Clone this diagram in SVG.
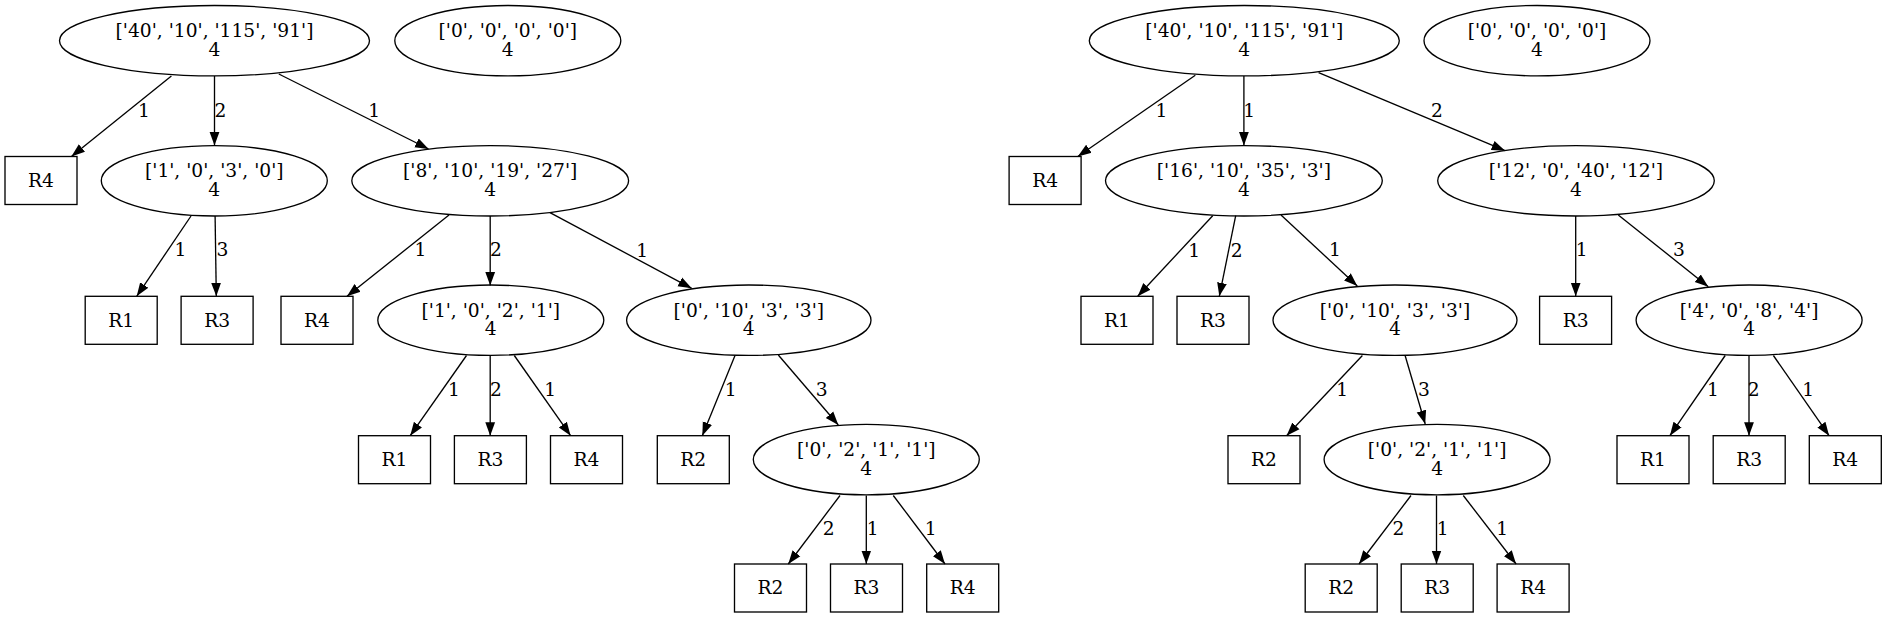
<svg xmlns="http://www.w3.org/2000/svg" width="1887" height="617" viewBox="0 0 1887 617">
<style>
.n ellipse,.n rect{fill:none;stroke:#000;stroke-width:1.33}
text{font-family:"DejaVu Serif",serif;font-size:18.67px;text-anchor:middle;fill:#000}
#edges line{stroke:#000;stroke-width:1.33;marker-end:url(#arr)}
</style>
<defs>
<marker id="arr" viewBox="0 -6 14 12" refX="13.5" refY="0" markerWidth="14" markerHeight="12" markerUnits="userSpaceOnUse" orient="auto">
<path d="M0,-4.9L13.5,0L0,4.9z" fill="#000"/>
</marker>
</defs>
<rect width="1887" height="617" fill="#fff"/>
<g id="edges">
<line x1="171.4" y1="76" x2="71.4" y2="156.5"/>
<line x1="214.5" y1="76" x2="214.5" y2="145.6"/>
<line x1="278.8" y1="74" x2="428.6" y2="149"/>
<line x1="191" y1="216" x2="136.7" y2="296.3"/>
<line x1="215.1" y1="216" x2="216.3" y2="296.3"/>
<line x1="449" y1="215" x2="347" y2="296.3"/>
<line x1="490.2" y1="216" x2="490.2" y2="285.5"/>
<line x1="550" y1="212.7" x2="691.7" y2="288.3"/>
<line x1="466.5" y1="355.5" x2="410.2" y2="435.7"/>
<line x1="490.2" y1="355.5" x2="490.2" y2="435.7"/>
<line x1="514.3" y1="355.5" x2="570.6" y2="435.7"/>
<line x1="735" y1="355.5" x2="702.3" y2="435.7"/>
<line x1="778.3" y1="355" x2="838.3" y2="425"/>
<line x1="840" y1="495.5" x2="788.3" y2="564"/>
<line x1="866.3" y1="495.5" x2="866.3" y2="564"/>
<line x1="893.3" y1="495.5" x2="945" y2="564"/>
<line x1="1195.3" y1="75.3" x2="1077.8" y2="156.5"/>
<line x1="1243.9" y1="76" x2="1243.9" y2="145.6"/>
<line x1="1318.6" y1="72.7" x2="1505.1" y2="150.7"/>
<line x1="1212.7" y1="215.7" x2="1137.7" y2="296.3"/>
<line x1="1235.7" y1="215.7" x2="1219.3" y2="296.3"/>
<line x1="1281" y1="215" x2="1357.3" y2="286"/>
<line x1="1575.7" y1="216" x2="1575.7" y2="296.3"/>
<line x1="1618.3" y1="215" x2="1708.3" y2="286.7"/>
<line x1="1362.4" y1="355.5" x2="1286.6" y2="435.7"/>
<line x1="1405.1" y1="355.5" x2="1425.2" y2="424"/>
<line x1="1411" y1="495.5" x2="1359" y2="564"/>
<line x1="1436.5" y1="495.5" x2="1436.5" y2="564"/>
<line x1="1463.3" y1="495.5" x2="1516.1" y2="564"/>
<line x1="1725.2" y1="355.5" x2="1669.9" y2="435.7"/>
<line x1="1749" y1="355.5" x2="1749" y2="435.7"/>
<line x1="1773.4" y1="355.5" x2="1829.1" y2="435.7"/>
<text x="144" y="116.7">1</text>
<text x="220.4" y="116.7">2</text>
<text x="374.3" y="116.7">1</text>
<text x="180.4" y="256.2">1</text>
<text x="222.4" y="256.2">3</text>
<text x="420.4" y="256.2">1</text>
<text x="496" y="256.2">2</text>
<text x="642.3" y="256.7">1</text>
<text x="453.9" y="395.7">1</text>
<text x="496" y="395.7">2</text>
<text x="550.2" y="395.7">1</text>
<text x="730.7" y="395.7">1</text>
<text x="821.7" y="395.7">3</text>
<text x="828.7" y="535">2</text>
<text x="872.7" y="535">1</text>
<text x="930.7" y="535">1</text>
<text x="1161.4" y="116.7">1</text>
<text x="1249.2" y="116.7">1</text>
<text x="1437" y="116.7">2</text>
<text x="1194.3" y="256.7">1</text>
<text x="1236.7" y="256.7">2</text>
<text x="1334.9" y="256.2">1</text>
<text x="1581.8" y="256.2">1</text>
<text x="1679" y="255.7">3</text>
<text x="1342.3" y="395.7">1</text>
<text x="1424" y="395.7">3</text>
<text x="1398.4" y="535">2</text>
<text x="1442.8" y="535">1</text>
<text x="1502.3" y="535">1</text>
<text x="1713" y="395.7">1</text>
<text x="1753.7" y="395.7">2</text>
<text x="1808.1" y="395.7">1</text>
</g>
<g id="L0" class="n"><ellipse cx="214.5" cy="40.7" rx="155" ry="35.2"/><text x="214.5" y="37"><tspan x="214.5">['40', '10', '115', '91']</tspan><tspan x="214.5" dy="18.67">4</tspan></text></g>
<g id="L0b" class="n"><ellipse cx="507.8" cy="40.7" rx="113" ry="35.2"/><text x="507.8" y="37"><tspan x="507.8">['0', '0', '0', '0']</tspan><tspan x="507.8" dy="18.67">4</tspan></text></g>
<g id="L1" class="n"><rect x="5" y="156.5" width="72" height="48"/><text x="41" y="186.7">R4</text></g>
<g id="L2" class="n"><ellipse cx="214.3" cy="180.8" rx="113" ry="35.2"/><text x="214.3" y="177.1"><tspan x="214.3">['1', '0', '3', '0']</tspan><tspan x="214.3" dy="18.67">4</tspan></text></g>
<g id="L3" class="n"><ellipse cx="490.2" cy="180.8" rx="138.4" ry="35.2"/><text x="490.2" y="177.1"><tspan x="490.2">['8', '10', '19', '27']</tspan><tspan x="490.2" dy="18.67">4</tspan></text></g>
<g id="L4" class="n"><rect x="85.2" y="296.3" width="72" height="48"/><text x="121.2" y="326.5">R1</text></g>
<g id="L5" class="n"><rect x="181.1" y="296.3" width="72" height="48"/><text x="217.1" y="326.5">R3</text></g>
<g id="L6" class="n"><rect x="281" y="296.3" width="72" height="48"/><text x="317" y="326.5">R4</text></g>
<g id="L7" class="n"><ellipse cx="490.8" cy="320.2" rx="113" ry="35.2"/><text x="490.8" y="316.5"><tspan x="490.8">['1', '0', '2', '1']</tspan><tspan x="490.8" dy="18.67">4</tspan></text></g>
<g id="L8" class="n"><ellipse cx="748.8" cy="320.2" rx="122.2" ry="35.2"/><text x="748.8" y="316.5"><tspan x="748.8">['0', '10', '3', '3']</tspan><tspan x="748.8" dy="18.67">4</tspan></text></g>
<g id="L9" class="n"><rect x="358.5" y="435.7" width="72" height="48"/><text x="394.5" y="465.9">R1</text></g>
<g id="L10" class="n"><rect x="454.4" y="435.7" width="72" height="48"/><text x="490.4" y="465.9">R3</text></g>
<g id="L11" class="n"><rect x="550.5" y="435.7" width="72" height="48"/><text x="586.5" y="465.9">R4</text></g>
<g id="L12" class="n"><rect x="657.3" y="435.7" width="72" height="48"/><text x="693.3" y="465.9">R2</text></g>
<g id="L13" class="n"><ellipse cx="866.3" cy="459.6" rx="113" ry="35.2"/><text x="866.3" y="455.9"><tspan x="866.3">['0', '2', '1', '1']</tspan><tspan x="866.3" dy="18.67">4</tspan></text></g>
<g id="L14" class="n"><rect x="734.5" y="564" width="72" height="48"/><text x="770.5" y="594.2">R2</text></g>
<g id="L15" class="n"><rect x="830.5" y="564" width="72" height="48"/><text x="866.5" y="594.2">R3</text></g>
<g id="L16" class="n"><rect x="926.7" y="564" width="72" height="48"/><text x="962.7" y="594.2">R4</text></g>
<g id="R0" class="n"><ellipse cx="1244.3" cy="40.7" rx="155" ry="35.2"/><text x="1244.3" y="37"><tspan x="1244.3">['40', '10', '115', '91']</tspan><tspan x="1244.3" dy="18.67">4</tspan></text></g>
<g id="R0b" class="n"><ellipse cx="1537" cy="40.7" rx="113" ry="35.2"/><text x="1537" y="37"><tspan x="1537">['0', '0', '0', '0']</tspan><tspan x="1537" dy="18.67">4</tspan></text></g>
<g id="R1" class="n"><rect x="1009.1" y="156.5" width="72" height="48"/><text x="1045.1" y="186.7">R4</text></g>
<g id="R2" class="n"><ellipse cx="1243.9" cy="180.8" rx="138.4" ry="35.2"/><text x="1243.9" y="177.1"><tspan x="1243.9">['16', '10', '35', '3']</tspan><tspan x="1243.9" dy="18.67">4</tspan></text></g>
<g id="R3" class="n"><ellipse cx="1576" cy="180.8" rx="138.3" ry="35.2"/><text x="1576" y="177.1"><tspan x="1576">['12', '0', '40', '12']</tspan><tspan x="1576" dy="18.67">4</tspan></text></g>
<g id="R4" class="n"><rect x="1081" y="296.3" width="72" height="48"/><text x="1117" y="326.5">R1</text></g>
<g id="R5" class="n"><rect x="1177" y="296.3" width="72" height="48"/><text x="1213" y="326.5">R3</text></g>
<g id="R6" class="n"><ellipse cx="1395" cy="320.2" rx="122" ry="35.2"/><text x="1395" y="316.5"><tspan x="1395">['0', '10', '3', '3']</tspan><tspan x="1395" dy="18.67">4</tspan></text></g>
<g id="R7" class="n"><rect x="1539.6" y="296.3" width="72" height="48"/><text x="1575.6" y="326.5">R3</text></g>
<g id="R8" class="n"><ellipse cx="1749.1" cy="320.2" rx="113" ry="35.2"/><text x="1749.1" y="316.5"><tspan x="1749.1">['4', '0', '8', '4']</tspan><tspan x="1749.1" dy="18.67">4</tspan></text></g>
<g id="R9" class="n"><rect x="1228" y="435.7" width="72" height="48"/><text x="1264" y="465.9">R2</text></g>
<g id="R10" class="n"><ellipse cx="1437.1" cy="459.6" rx="113" ry="35.2"/><text x="1437.1" y="455.9"><tspan x="1437.1">['0', '2', '1', '1']</tspan><tspan x="1437.1" dy="18.67">4</tspan></text></g>
<g id="R11" class="n"><rect x="1617" y="435.7" width="72" height="48"/><text x="1653" y="465.9">R1</text></g>
<g id="R12" class="n"><rect x="1713.2" y="435.7" width="72" height="48"/><text x="1749.2" y="465.9">R3</text></g>
<g id="R13" class="n"><rect x="1809.3" y="435.7" width="72" height="48"/><text x="1845.3" y="465.9">R4</text></g>
<g id="R14" class="n"><rect x="1305.2" y="564" width="72" height="48"/><text x="1341.2" y="594.2">R2</text></g>
<g id="R15" class="n"><rect x="1401.2" y="564" width="72" height="48"/><text x="1437.2" y="594.2">R3</text></g>
<g id="R16" class="n"><rect x="1497.1" y="564" width="72" height="48"/><text x="1533.1" y="594.2">R4</text></g>
</svg>
